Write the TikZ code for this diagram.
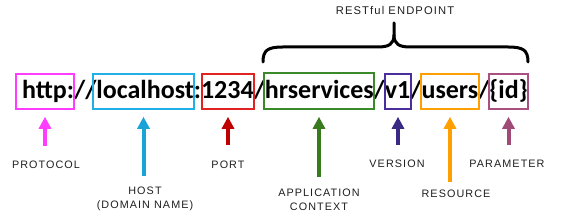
\documentclass[tikz,border=0pt]{standalone}
\usepackage{fontspec}
\setmainfont{Carlito}
\newfontfamily\labelfont[LetterSpace=10]{Liberation Sans}
\usetikzlibrary{arrows.meta}
\definecolor{cProto}{HTML}{FF3CFF}
\definecolor{cHostBox}{HTML}{22AEE6}
\definecolor{cHost}{HTML}{1AA3D9}
\definecolor{cPortBox}{HTML}{E02222}
\definecolor{cPort}{HTML}{C00000}
\definecolor{cAppBox}{HTML}{3A8A2A}
\definecolor{cApp}{HTML}{3A7A1E}
\definecolor{cVerBox}{HTML}{4B2E9E}
\definecolor{cVer}{HTML}{3A2A84}
\definecolor{cRes}{HTML}{FFA000}
\definecolor{cParBox}{HTML}{A8507F}
\definecolor{cPar}{HTML}{A04A78}
\tikzset{
  segbox/.style={draw=#1, line width=1.6pt, inner sep=0pt, minimum height=35pt},
  lbl/.style={font=\labelfont\fontsize{10.8}{14}\selectfont, inner sep=0pt, align=center, text=black!88},
  arr/.style={draw=#1, line width=4pt, -{Triangle[width=12pt,length=12pt]}},
  bracepath/.style={line width=3pt, line cap=round, line join=round}
}
\begin{document}
\begin{tikzpicture}[x=1pt,y=-1pt]
\useasboundingbox (0,0) rectangle (571,221);
% URL text
\node[anchor=base west, inner sep=0pt, font=\bfseries\fontsize{26}{30}\selectfont] (url) at (22,99)
  {http://localhost:1234/hrservices/v1/users/\{id\}};
% segment boxes
\node[segbox=cProto, minimum width=58pt] (proto) at (45,91.5) {};
\node[segbox=cHostBox, minimum width=101pt] (host) at (143.5,91.5) {};
\node[segbox=cPortBox, minimum width=52pt] (port) at (228,91.5) {};
\node[segbox=cAppBox, minimum width=110pt, minimum height=36pt] (app) at (319,91) {};
\node[segbox=cVerBox, minimum width=26pt] (ver) at (398,91.5) {};
\node[segbox=cRes, minimum width=58pt] (res) at (450,91.5) {};
\node[segbox=cParBox, minimum width=39pt] (par) at (508.5,91.5) {};
% labels
\node[lbl] (lproto) at (46,164.5) {PROTOCOL};
\node[lbl] (lhost) at (145,198.6) {HOST\\(DOMAIN NAME)};
\node[lbl] (lport) at (228,165) {PORT};
\node[lbl, font=\labelfont\fontsize{10.8}{13.5}\selectfont] (lapp) at (319,200) {APPLICATION\\CONTEXT};
\node[lbl] (lver) at (397,163.3) {VERSION};
\node[lbl] (lres) at (456,194) {RESOURCE};
\node[lbl] (lpar) at (507,163.3) {PARAMETER};
\node[lbl, font=\labelfont\fontsize{11.2}{13}\selectfont] (lrest) at (395,11) {RESTful ENDPOINT};
% arrows
\draw[arr=cProto, shorten <=14.7pt, shorten >=7pt] (lproto.north -| proto.south) -- (proto.south);
\draw[arr=cHost, shorten <=10.3pt, shorten >=7pt] (lhost.north -| host.south) -- (host.south);
\draw[arr=cPort, shorten <=15.7pt, shorten >=7pt] (lport.north -| port.south) -- (port.south);
\draw[arr=cApp, shorten <=12pt, shorten >=7pt] (lapp.north -| app.south) -- (app.south);
\draw[arr=cVer, shorten <=14.3pt, shorten >=7pt] (lver.north -| ver.south) -- (ver.south);
\draw[arr=cRes, shorten <=8pt, shorten >=7pt] (lres.north -| res.south) -- (res.south);
\draw[arr=cPar, shorten <=14.3pt, shorten >=7pt] (lpar.north -| par.south) -- (par.south);
% brace
\draw[bracepath] (263,62) .. controls (263,50) and (268,47) .. (283,47) -- (378,47)
  .. controls (389,47) and (394,44) .. (394,35) -- (394,23);
\draw[bracepath] (528,62) .. controls (528,50) and (523,47) .. (508,47) -- (410,47)
  .. controls (399,47) and (394,44) .. (394,35);
\end{tikzpicture}
\end{document}
